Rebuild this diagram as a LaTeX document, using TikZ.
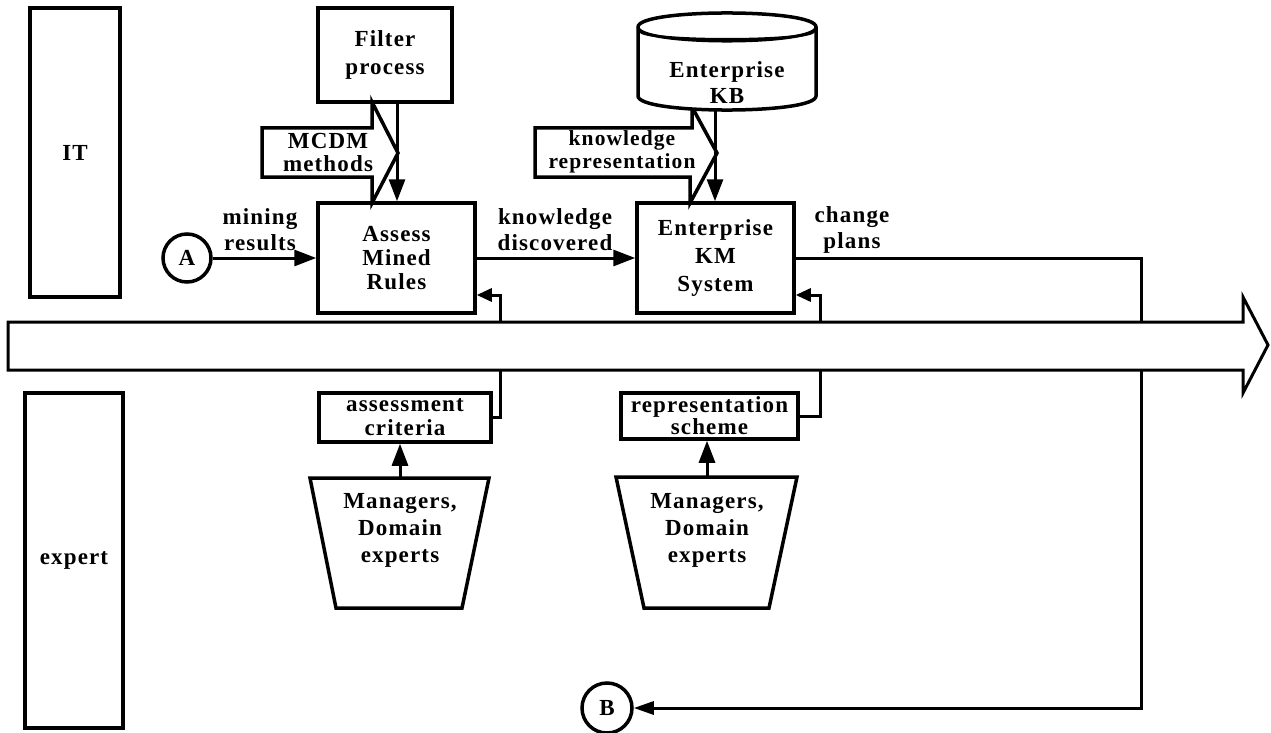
\documentclass[tikz,border=0pt]{standalone}
\usepackage{fontspec}
\setmainfont{Liberation Serif}[LetterSpace=5]
\usetikzlibrary{arrows.meta}
\begin{document}
\begin{tikzpicture}[x=1pt,y=-1pt,
  every node/.style={font=\fontsize{23}{26}\selectfont\bfseries},
  box/.style={draw, line width=3.5pt, align=center, inner sep=0pt, fill=white},
  conn/.style={line width=3pt, line join=miter},
  arr/.style={conn, -{Triangle[length=22pt,width=16pt]}},
  smallarr/.style={conn, -{Triangle[length=15pt,width=13pt]}},
  lbl/.style={align=center, inner sep=0pt},
  blockarrow/.style={draw, line width=3.5pt, fill=white, line join=miter},
  bubble/.style={draw, circle, line width=3.5pt, inner sep=0pt, minimum size=48pt}]
\useasboundingbox (0,0) rectangle (1271,733);

% lanes
\node[box, minimum width=90pt, minimum height=289pt] (it) at (75,152.5) {IT};
\node[box, minimum width=98pt, minimum height=335pt] (expert) at (74,560.5) {expert};

% process boxes
\node[box, minimum width=134pt, minimum height=94pt,
      font=\fontsize{23}{28}\selectfont\bfseries] (filter) at (385,55) {Filter\\process};
\node[box, minimum width=157pt, minimum height=110pt,
      font=\fontsize{23}{24}\selectfont\bfseries] (assess) at (396.5,258) {Assess\\Mined\\Rules};
\node[box, minimum width=157pt, minimum height=110pt,
      font=\fontsize{23}{28}\selectfont\bfseries] (km) at (715.5,258) {Enterprise\\KM\\System};
\node[box, minimum width=172pt, minimum height=49pt,
      font=\fontsize{23}{24}\selectfont\bfseries] (crit) at (405,417.5) {assessment\\criteria};
\node[box, minimum width=177pt, minimum height=46pt,
      font=\fontsize{23}{22}\selectfont\bfseries] (scheme) at (709.5,416) {representation\\scheme};

% connector points
\coordinate (fb1) at (500,295);
\coordinate (fb2) at (820,295);
\coordinate (cp1) at (1141,258);
\coordinate (cp2) at (1141,708);
\node[bubble] (A) at (187,258) {A};
\node[bubble, minimum size=50pt] (B) at (607,708) {B};

% lines that pass under the timeline arrow
\draw[conn, -{Triangle[length=20pt,width=13pt]}] (km.east) -- (cp1) -- (cp2) -- (B);
\draw[smallarr] (crit.east) -| (fb1) -- (fb1 -| assess.east);
\draw[smallarr] (scheme.east) -| (fb2) -- (fb2 -| km.east);

% timeline arrow
\draw[line width=3pt, fill=white, line join=miter]
  (8,322) -- (1243,322) -- (1243,297) -- (1268,345) -- (1243,393)
  -- (1243,370) -- (8,370) -- cycle;

% block arrows for the mechanisms
\draw[blockarrow] (262,128) -- (372,128) -- (372,102) -- (398,153)
  -- (372,203) -- (372,177) -- (262,177) -- cycle;
\node[lbl, font=\fontsize{23}{23}\selectfont\bfseries] (mcdm) at (328,152) {MCDM\\methods};
\draw[blockarrow] (535,128) -- (692,128) -- (692,107) -- (717,153)
  -- (690,203) -- (690,177) -- (535,177) -- cycle;
\node[lbl, font=\fontsize{21.5}{23}\selectfont\bfseries] (krep) at (622,152) {knowledge\\representation};

% knowledge base cylinder
\draw[line width=3.5pt, fill=white]
  (638,27) -- (638,96) .. controls (638,114.7) and (816,114.7) .. (816,96)
  -- (816,27) .. controls (816,8.3) and (638,8.3) .. (638,27) -- cycle;
\draw[line width=3pt] (638,27) .. controls (638,45.7) and (816,45.7) .. (816,27);
\draw[line width=2.5pt] (640,31) .. controls (642,42) and (812,42) .. (814,31);
\node[lbl] (kb) at (727,83) {Enterprise\\KB};

% vertical inputs
\coordinate (f1) at (397,102);
\draw[arr] (f1) -- (f1 |- assess.north);
\coordinate (k1) at (715,108);
\draw[arr] (k1) -- (k1 |- km.north);

% flows between activities
\draw[arr] (A) -- (assess.west);
\draw[arr] (assess.east) -- (km.west);
\node[lbl] (mining) at (260,230) {mining\\results};
\node[lbl] (disc) at (555,230) {knowledge\\discovered};
\node[lbl] (plans) at (852,230) {change\\plans};

% stakeholders
\draw[line width=3.5pt, fill=white, line join=miter]
  (310,478) -- (489,478) -- (462,608) -- (336,608) -- cycle;
\coordinate (m1) at (400,478);
\node[lbl, font=\fontsize{23}{27}\selectfont\bfseries] (mgr1) at (400,530) {Managers,\\Domain\\experts};
\draw[line width=3.5pt, fill=white, line join=miter]
  (616,477) -- (797,477) -- (769,608) -- (644,608) -- cycle;
\coordinate (m2) at (707,477);
\node[lbl, font=\fontsize{23}{27}\selectfont\bfseries] (mgr2) at (707,530) {Managers,\\Domain\\experts};
\draw[arr] (m1) -- (m1 |- crit.south);
\draw[arr] (m2) -- (m2 |- scheme.south);
\end{tikzpicture}
\end{document}
